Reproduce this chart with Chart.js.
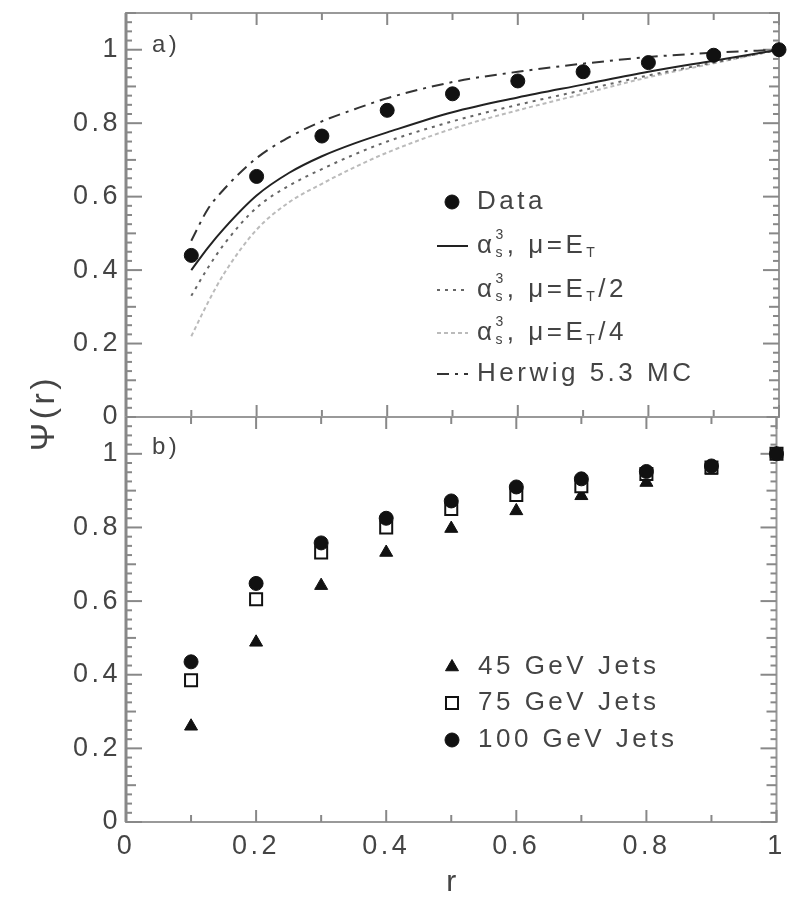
<!DOCTYPE html>
<html>
<head>
<meta charset="utf-8">
<script src="https://cdn.jsdelivr.net/npm/chart.js@4.4.0/dist/chart.umd.min.js"></script>
<style>
  html, body { margin: 0; padding: 0; background: #fff; }
  #wrap { position: relative; width: 787px; height: 898px; }
  .panel { position: absolute; left: 0; width: 787px; }
  #top { top: 0; height: 440px; }
  #bottom { top: 360px; height: 538px; }
</style>
</head>
<body>
<div id="wrap">
  <div class="panel" id="top"><canvas id="psiTop"></canvas></div>
  <div class="panel" id="bottom"><canvas id="psiBottom"></canvas></div>
</div>
<script>
// integrated jet shape psi(r), data vs NLO / Herwig, and by jet energy
var rPoints = [0.1, 0.2, 0.3, 0.4, 0.5, 0.6, 0.7, 0.8, 0.9, 1.0];
var psiData = [0.44, 0.655, 0.765, 0.835, 0.88, 0.915, 0.94, 0.965, 0.985, 1.0];

var curveR = [0.1, 0.125, 0.15, 0.2, 0.25, 0.3, 0.35, 0.4, 0.5, 0.6, 0.7, 0.8, 0.9, 1.0];
var nloEt  = [0.40, 0.46, 0.513, 0.603, 0.665, 0.71, 0.745, 0.775, 0.83, 0.87, 0.905, 0.94, 0.97, 1.0];
var nloEt2 = [0.33, 0.405, 0.47, 0.57, 0.63, 0.675, 0.715, 0.75, 0.805, 0.85, 0.89, 0.93, 0.965, 1.0];
var nloEt4 = [0.22, 0.31, 0.39, 0.51, 0.585, 0.635, 0.68, 0.72, 0.785, 0.835, 0.88, 0.925, 0.963, 1.0];
var herwig = [0.48, 0.565, 0.62, 0.705, 0.762, 0.805, 0.838, 0.868, 0.912, 0.94, 0.962, 0.98, 0.992, 1.0];

var jets45  = [0.26, 0.488, 0.642, 0.732, 0.797, 0.845, 0.886, 0.922, 0.955, 1.0];
var jets75  = [0.385, 0.605, 0.732, 0.80, 0.85, 0.888, 0.912, 0.945, 0.963, 1.0];
var jets100 = [0.435, 0.648, 0.758, 0.825, 0.872, 0.91, 0.932, 0.952, 0.967, 1.0];

var xTicks = [0, 0.2, 0.4, 0.6, 0.8, 1];
var yTicks = [0, 0.2, 0.4, 0.6, 0.8, 1];

var FONT = '"Liberation Sans", Arial, sans-serif';
var INK = '#444';

function pairs(xs, ys) {
  return xs.map(function (x, i) { return { x: x, y: ys[i] }; });
}

function line(ctx, x1, y1, x2, y2) {
  ctx.beginPath();
  ctx.moveTo(x1, y1);
  ctx.lineTo(x2, y2);
  ctx.stroke();
}

// box around the plot with inward pointing ticks
function drawFrame(chart) {
  var ctx = chart.ctx, a = chart.chartArea;
  var x = chart.scales.x, y = chart.scales.y;
  ctx.save();
  ctx.setLineDash([]);
  ctx.strokeStyle = '#999';
  ctx.lineWidth = 2;
  ctx.strokeRect(a.left, a.top, a.right - a.left, a.bottom - a.top);
  ctx.strokeStyle = '#888';
  for (var i = 0; i <= 10; i++) {
    var px = x.getPixelForValue(i / 10);
    var len = i % 2 === 0 ? 12 : 7;
    line(ctx, px, a.top, px, a.top + len);
    line(ctx, px, a.bottom, px, a.bottom - len);
  }
  for (var j = 0; j * 0.025 <= y.max + 1e-9; j++) {
    var py = y.getPixelForValue(j * 0.025);
    var l = j % 8 === 0 ? 16 : (j % 4 === 0 ? 10 : 6);
    line(ctx, a.left, py, a.left + l, py);
    line(ctx, a.right, py, a.right - l, py);
  }
  ctx.lineWidth = 3;
  line(ctx, a.left, a.top, a.left, a.bottom);
  ctx.restore();
}

// text with super/subscripts: parts are strings or {sup, sub}
function richText(ctx, x, y, parts, size) {
  parts.forEach(function (p) {
    if (typeof p === 'string') {
      ctx.font = size + 'px ' + FONT;
      ctx.fillText(p, x, y);
      x += ctx.measureText(p).width;
    } else {
      var small = Math.round(size * 0.55);
      ctx.font = small + 'px ' + FONT;
      var w = 0;
      if (p.sup) { ctx.fillText(p.sup, x, y - size * 0.42); w = Math.max(w, ctx.measureText(p.sup).width); }
      if (p.sub) { ctx.fillText(p.sub, x, y + size * 0.28); w = Math.max(w, ctx.measureText(p.sub).width); }
      x += w;
    }
  });
}

function legendLine(ctx, ds, x1, x2, y) {
  ctx.save();
  ctx.strokeStyle = ds.borderColor;
  ctx.lineWidth = ds.borderWidth;
  ctx.setLineDash(ds.borderDash || []);
  line(ctx, x1, y, x2, y);
  ctx.restore();
}

function legendPoint(ctx, ds, x, y) {
  ctx.save();
  ctx.fillStyle = ds.pointBackgroundColor;
  ctx.strokeStyle = ds.pointBorderColor;
  ctx.lineWidth = ds.pointBorderWidth;
  Chart.helpers.drawPoint(ctx, {
    pointStyle: ds.pointStyle, radius: ds.pointRadius, rotation: 0, borderWidth: ds.pointBorderWidth
  }, x, y);
  ctx.restore();
}

var spacing = {
  id: 'spacing',
  beforeDraw: function (chart) { chart.ctx.letterSpacing = '3.5px'; }
};

var frameTop = {
  id: 'frameTop',
  beforeDatasetsDraw: function (chart) { drawFrame(chart); },
  afterDraw: function (chart) {
    var ctx = chart.ctx, ds = chart.data.datasets;
    ctx.save();
    ctx.fillStyle = INK;
    ctx.textBaseline = 'middle';
    ctx.font = '24px ' + FONT;
    ctx.fillText('a)', 152, 45);

    var tx = 477, size = 26;
    var rows = [202, 246, 290, 333, 374];
    legendPoint(ctx, ds[0], 452, rows[0]);
    ctx.font = size + 'px ' + FONT;
    ctx.fillText('Data', tx, rows[0]);
    var alpha = ['\u03b1', { sup: '3', sub: 's' }, ', \u03bc=E', { sub: 'T' }];
    legendLine(ctx, ds[1], 437, 468, rows[1]);
    richText(ctx, tx, rows[1], alpha, size);
    legendLine(ctx, ds[2], 437, 468, rows[2]);
    richText(ctx, tx, rows[2], alpha.concat(['/2']), size);
    legendLine(ctx, ds[3], 437, 468, rows[3]);
    richText(ctx, tx, rows[3], alpha.concat(['/4']), size);
    legendLine(ctx, ds[4], 437, 468, rows[4]);
    ctx.font = size + 'px ' + FONT;
    ctx.fillText('Herwig 5.3 MC', tx, rows[4]);
    ctx.restore();
  }
};

var frameBottom = {
  id: 'frameBottom',
  beforeDatasetsDraw: function (chart) { drawFrame(chart); },
  afterDraw: function (chart) {
    var ctx = chart.ctx, ds = chart.data.datasets;
    ctx.save();
    ctx.fillStyle = INK;
    ctx.textBaseline = 'middle';
    ctx.font = '24px ' + FONT;
    ctx.fillText('b)', 152, 447 - 360);

    var rows = [667, 703, 740];
    ctx.font = '26px ' + FONT;
    // legend rows follow 45, 75, 100 GeV; datasets are stored 100, 75, 45
    [2, 1, 0].forEach(function (k, i) {
      legendPoint(ctx, ds[k], 452, rows[i] - 360);
      ctx.fillText(ds[k].label, 478, rows[i] - 360);
    });

    // axis titles
    ctx.textAlign = 'center';
    ctx.font = '30px ' + FONT;
    ctx.fillText('r', 453, 883 - 360);
    ctx.translate(45, 413 - 360);
    ctx.rotate(-Math.PI / 2);
    ctx.font = '34px ' + FONT;
    ctx.fillText('\u03a8(r)', 0, 0);
    ctx.restore();
  }
};

function yAxis() {
  return {
    type: 'linear',
    min: 0,
    max: 1.1,
    afterFit: function (s) {
      s.width = 126;
      s.paddingTop = 0;
      s.paddingBottom = 0;
    },
    afterBuildTicks: function (s) { s.ticks = yTicks.map(function (v) { return { value: v }; }); },
    grid: { display: false, drawTicks: false },
    border: { display: false },
    ticks: {
      padding: 5,
      color: INK,
      font: { family: FONT, size: 27 },
      callback: function (v) { return String(Math.round(v * 10) / 10); }
    }
  };
}

// top panel: data vs theory
new Chart(document.getElementById('psiTop'), {
  type: 'line',
  data: {
    datasets: [
      {
        label: 'Data',
        data: pairs(rPoints, psiData),
        showLine: false,
        pointStyle: 'circle',
        pointRadius: 7,
        pointBackgroundColor: '#111',
        pointBorderColor: '#111',
        pointBorderWidth: 1,
        clip: false,
        order: 0
      },
      {
        label: 'mu=ET',
        data: pairs(curveR, nloEt),
        borderColor: '#222',
        borderWidth: 2,
        pointRadius: 0,
        cubicInterpolationMode: 'monotone',
        order: 1
      },
      {
        label: 'mu=ET/2',
        data: pairs(curveR, nloEt2),
        borderColor: '#666',
        borderWidth: 2,
        borderDash: [3, 5],
        pointRadius: 0,
        cubicInterpolationMode: 'monotone',
        order: 2
      },
      {
        label: 'mu=ET/4',
        data: pairs(curveR, nloEt4),
        borderColor: '#bbb',
        borderWidth: 2,
        borderDash: [4, 3],
        pointRadius: 0,
        cubicInterpolationMode: 'monotone',
        order: 3
      },
      {
        label: 'Herwig 5.3 MC',
        data: pairs(curveR, herwig),
        borderColor: '#333',
        borderWidth: 2,
        borderDash: [12, 6, 3, 6],
        pointRadius: 0,
        cubicInterpolationMode: 'monotone',
        order: 4
      }
    ]
  },
  options: {
    responsive: true,
    maintainAspectRatio: false,
    animation: false,
    layout: { padding: { top: 13, right: 6, bottom: 23, left: 0 } },
    plugins: { legend: { display: false }, tooltip: { enabled: false } },
    scales: {
      x: { type: 'linear', min: 0, max: 1, display: false },
      y: yAxis()
    }
  },
  plugins: [spacing, frameTop]
});

// bottom panel: jet energy dependence
new Chart(document.getElementById('psiBottom'), {
  type: 'line',
  data: {
    datasets: [
      {
        label: '100 GeV Jets',
        data: pairs(rPoints, jets100),
        showLine: false,
        pointStyle: 'circle',
        pointRadius: 7,
        pointBackgroundColor: '#111',
        pointBorderColor: '#111',
        pointBorderWidth: 1,
        clip: false,
        order: 0
      },
      {
        label: '75 GeV Jets',
        data: pairs(rPoints, jets75),
        showLine: false,
        pointStyle: 'rect',
        pointRadius: 8.5,
        pointBackgroundColor: '#fff',
        pointBorderColor: '#111',
        pointBorderWidth: 2,
        clip: false,
        order: 1
      },
      {
        label: '45 GeV Jets',
        data: pairs(rPoints, jets45),
        showLine: false,
        pointStyle: 'triangle',
        pointRadius: 7.5,
        pointBackgroundColor: '#111',
        pointBorderColor: '#111',
        pointBorderWidth: 1,
        clip: false,
        order: 2
      }
    ]
  },
  options: {
    responsive: true,
    maintainAspectRatio: false,
    animation: false,
    layout: { padding: { top: 57, right: 6, bottom: 0, left: 0 } },
    plugins: { legend: { display: false }, tooltip: { enabled: false } },
    scales: {
      x: {
        type: 'linear',
        min: 0,
        max: 1,
        afterFit: function (s) {
          s.height = 76;
          s.paddingLeft = 0;
          s.paddingRight = 0;
        },
        afterBuildTicks: function (s) { s.ticks = xTicks.map(function (v) { return { value: v }; }); },
        grid: { display: false, drawTicks: false },
        border: { display: false },
        ticks: {
          padding: 8,
          maxRotation: 0,
          color: INK,
          font: { family: FONT, size: 27 },
          callback: function (v) { return String(Math.round(v * 10) / 10); }
        }
      },
      y: yAxis()
    }
  },
  plugins: [spacing, frameBottom]
});
</script>
</body>
</html>
